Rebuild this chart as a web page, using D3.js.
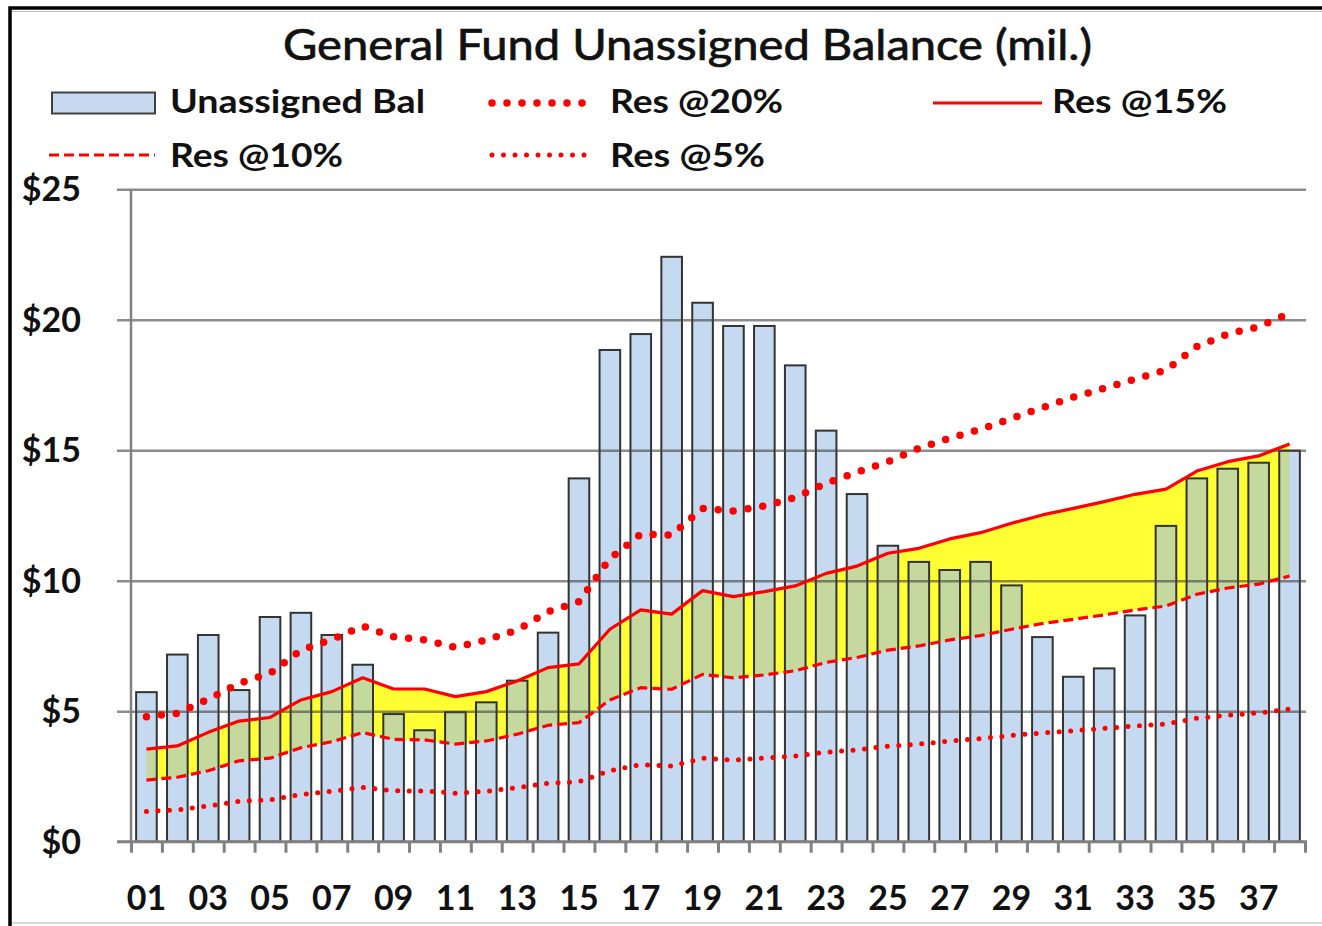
<!DOCTYPE html>
<html><head><meta charset="utf-8">
<script src="https://cdn.jsdelivr.net/npm/d3@7"></script>
<style>html,body{margin:0;padding:0;background:#fff;}svg{display:block;}</style>
</head><body>
<svg id="chart" width="1322" height="926"></svg>
<script>
const categories = ["01","02","03","04","05","06","07","08","09","10","11","12","13","14","15","16","17","18","19","20","21","22","23","24","25","26","27","28","29","30","31","32","33","34","35","36","37","38"];
const unassignedBal = [5.73,7.17,7.92,5.81,8.61,8.77,7.92,6.78,4.89,4.27,4.96,5.34,6.17,8.01,13.92,18.84,19.45,22.41,20.65,19.76,19.76,18.25,15.75,13.32,11.34,10.72,10.41,10.72,9.82,7.84,6.32,6.64,8.67,12.10,13.92,14.29,14.52,14.98];
const res20 = [4.79,4.92,5.46,6.07,6.45,7.34,7.75,8.26,7.85,7.73,7.45,7.73,8.11,8.81,9.20,10.85,11.78,11.75,12.77,12.67,12.86,13.19,13.73,14.16,14.56,15.07,15.46,15.80,16.22,16.63,17.03,17.37,17.72,18.07,18.97,19.45,19.73,20.24];
const res15 = [3.55,3.67,4.19,4.62,4.76,5.43,5.75,6.28,5.85,5.85,5.56,5.75,6.16,6.67,6.81,8.14,8.88,8.72,9.62,9.39,9.58,9.80,10.28,10.56,11.05,11.24,11.60,11.84,12.20,12.52,12.77,13.03,13.31,13.51,14.20,14.56,14.78,15.24];
const res10 = [2.36,2.47,2.72,3.10,3.20,3.60,3.83,4.18,3.92,3.90,3.74,3.86,4.12,4.46,4.56,5.43,5.90,5.84,6.41,6.28,6.39,6.55,6.87,7.06,7.34,7.50,7.73,7.90,8.14,8.36,8.52,8.69,8.88,9.03,9.48,9.72,9.87,10.18];
const res5 = [1.16,1.22,1.37,1.55,1.60,1.81,1.93,2.08,1.95,1.94,1.86,1.93,2.07,2.24,2.30,2.72,2.95,2.90,3.20,3.13,3.20,3.28,3.43,3.52,3.66,3.74,3.86,3.95,4.07,4.17,4.25,4.34,4.43,4.51,4.73,4.85,4.93,5.08];
const yTicks = [0,5,10,15,20,25];
const yTickLabels = ["$0","$5","$10","$15","$20","$25"];
const xLabelCats = ["01","03","05","07","09","11","13","15","17","19","21","23","25","27","29","31","33","35","37"];
const legendLabels = ["Unassigned Bal","Res @20%","Res @15%","Res @10%","Res @5%"];
const chartTitle = "General Fund Unassigned Balance (mil.)";

const svg = d3.select("#chart");
const FONT = "Lato, 'Open Sans', sans-serif";
const pLeft = 131, pRight = 1305, pTop = 189.2, pBottom = 841.7;

const x = d3.scaleBand().domain(categories).range([pLeft, pRight]).paddingInner(0.333).paddingOuter(0.1665);
const xEdge = d3.scaleLinear().domain([0, categories.length]).range([pLeft, pRight]);
const y = d3.scaleLinear().domain([0, 25]).range([pBottom, pTop]);
const cx = c => x(c) + x.bandwidth() / 2;

// frame
svg.append("rect").attr("x", 10).attr("y", 8).attr("width", 1340).attr("height", 960)
  .attr("fill", "#fff").attr("stroke", "#000").attr("stroke-width", 3.5);
svg.append("line").attr("x1", 12).attr("x2", 1322).attr("y1", 11.5).attr("y2", 11.5).attr("stroke", "#bbb").attr("stroke-width", 1);
svg.append("line").attr("x1", 12).attr("x2", 1322).attr("y1", 923).attr("y2", 923).attr("stroke", "#ccc").attr("stroke-width", 1.5);

// title
svg.append("text").attr("x", 687.5).attr("y", 60).attr("text-anchor", "middle")
  .attr("font-family", FONT).attr("font-size", 42).attr("fill", "#111")
  .attr("stroke", "#111").attr("stroke-width", 0.7)
  .attr("textLength", 809).attr("lengthAdjust", "spacingAndGlyphs").text(chartTitle);

// yellow band between 10% and 15%
const bandData = categories.map((c, i) => ({c, lo: res10[i], hi: res15[i]}));
svg.append("path").datum(bandData)
  .attr("d", d3.area().x(d => cx(d.c)).y0(d => y(d.lo)).y1(d => y(d.hi)))
  .attr("fill", "#ffff33");

// bars
svg.append("g").selectAll("rect").data(categories).join("rect")
  .attr("x", c => x(c)).attr("width", x.bandwidth())
  .attr("y", (c, i) => y(unassignedBal[i])).attr("height", (c, i) => y(0) - y(unassignedBal[i]))
  .attr("fill", "rgb(158,192,232)").attr("fill-opacity", 0.6)
  .attr("stroke", "#333").attr("stroke-width", 2);

// gridlines (drawn semi-transparent on top)
const grid = svg.append("g").attr("transform", `translate(${pLeft},0)`)
  .call(d3.axisLeft(y).tickValues(yTicks.filter(v => v > 0)).tickSize(-(pRight + 1 - pLeft)).tickFormat(""));
grid.select(".domain").remove();
grid.selectAll(".tick line").attr("x1", -14).attr("stroke", "#404040").attr("stroke-opacity", 0.6).attr("stroke-width", 2.5);

// vertical axis line
svg.append("line").attr("x1", pLeft).attr("x2", pLeft).attr("y1", pTop).attr("y2", pBottom)
  .attr("stroke", "#808080").attr("stroke-width", 2.5);

// x axis with ticks at band edges
const xa = svg.append("g").attr("transform", `translate(0,${pBottom})`)
  .call(d3.axisBottom(xEdge).tickValues(d3.range(categories.length + 1)).tickSize(11).tickSizeOuter(0).tickFormat(""));
xa.select(".domain").remove();
xa.selectAll(".tick line").attr("stroke", "#808080").attr("stroke-width", 3);
svg.append("line").attr("x1", pLeft - 14).attr("x2", pRight + 2).attr("y1", pBottom).attr("y2", pBottom)
  .attr("stroke", "#808080").attr("stroke-width", 3);

// y labels
svg.append("g").selectAll("text").data(yTicks).join("text")
  .attr("x", 81).attr("y", v => y(v) + 12).attr("text-anchor", "end")
  .attr("font-family", FONT).attr("font-weight", "bold").attr("font-size", 34).attr("fill", "#111")
  .text((v, i) => yTickLabels[i]);

// x labels
svg.append("g").selectAll("text").data(xLabelCats).join("text")
  .attr("x", c => cx(c)).attr("y", 910).attr("text-anchor", "middle")
  .attr("font-family", FONT).attr("font-weight", "bold").attr("font-size", 34).attr("fill", "#111")
  .text(c => c);

// lines
const lineGen = arr => d3.line().x((d, i) => cx(categories[i])).y(d => y(d))(arr);
const styles = {
  r20: {dash: "0 15", w: 7.5},
  r15: {dash: null, w: 3.2},
  r10: {dash: "10 5", w: 3.2},
  r5: {dash: "0 11.5", w: 5}
};
[[res5, styles.r5], [res10, styles.r10], [res20, styles.r20], [res15, styles.r15]].forEach(([arr, s]) => {
  svg.append("path").attr("d", lineGen(arr)).attr("fill", "none").attr("stroke", "#ff0000")
    .attr("stroke-width", s.w).attr("stroke-dasharray", s.dash).attr("stroke-linecap", s.dash && s.dash.startsWith("0") ? "round" : "butt")
    .attr("stroke-linejoin", "round");
});

// legend
const lg = svg.append("g").attr("font-family", FONT).attr("font-weight", "bold").attr("font-size", 32).attr("fill", "#111");
lg.append("rect").attr("x", 52).attr("y", 92.5).attr("width", 103).attr("height", 21)
  .attr("fill", "rgb(198,217,241)").attr("stroke", "#404040").attr("stroke-width", 2);
const legendText = [
  {t: legendLabels[0], x: 170, y: 113, w: 255},
  {t: legendLabels[1], x: 610, y: 113, w: 173},
  {t: legendLabels[2], x: 1052, y: 113, w: 175},
  {t: legendLabels[3], x: 170, y: 166.5, w: 173},
  {t: legendLabels[4], x: 610, y: 166.5, w: 155}
];
lg.selectAll("text").data(legendText).join("text")
  .attr("x", d => d.x).attr("y", d => d.y).attr("textLength", d => d.w).attr("lengthAdjust", "spacingAndGlyphs")
  .text(d => d.t);
const legLine = (x1, x2, yy, s) => svg.append("line").attr("x1", x1).attr("x2", x2).attr("y1", yy).attr("y2", yy)
  .attr("stroke", "#ff0000").attr("stroke-width", s.w).attr("stroke-dasharray", s.dash)
  .attr("stroke-linecap", s.dash && s.dash.startsWith("0") ? "round" : "butt");
legLine(492, 594, 103, styles.r20);
legLine(933, 1042, 103, styles.r15);
legLine(49, 155, 155, styles.r10);
legLine(492, 594, 155, styles.r5);
</script>
</body></html>
